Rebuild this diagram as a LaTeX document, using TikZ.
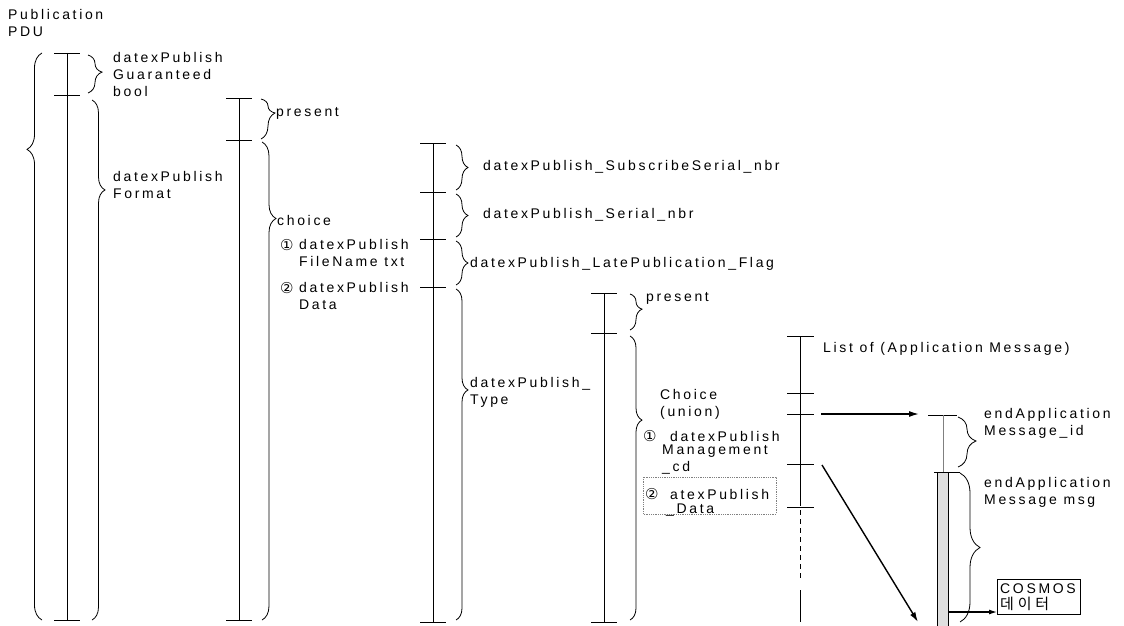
\documentclass[tikz,border=0pt]{standalone}
\usepackage{fontspec}
\setmainfont{Liberation Sans}[LetterSpace=19]
\newfontfamily\symfont{DejaVu Sans}
\newfontfamily\krfont{Noto Sans CJK KR}[LetterSpace=25]
\usetikzlibrary{decorations.pathreplacing,arrows.meta}
\begin{document}
\begin{tikzpicture}[x=1pt,y=-1pt,
  vline/.style={line width=1pt},
  tick/.style={line width=0.9pt},
  brc/.style 2 args={decorate,decoration={brace,amplitude=#1,aspect=#2},line width=0.8pt},
  lbl/.style={font=\fontsize{14pt}{17pt}\selectfont, inner sep=0pt, anchor=west, align=left},
  sym/.style={font=\fontsize{15pt}{17pt}\symfont, inner sep=0pt, anchor=west},
  krl/.style={font=\fontsize{15pt}{17pt}\krfont, inner sep=0pt, anchor=west},
  arr/.style={line width=1.4pt, -{Latex[length=10pt,width=6pt]}},
  dotbox/.style={line width=0.8pt, densely dotted, gray},
]
\useasboundingbox (0,0) rectangle (1124,626);

% title
\node[lbl] (title) at (8,23) {Publication\\PDU};

% column 1
\draw[vline] (67,53) -- (67,620);
\foreach \y in {53,95,620} \draw[tick] (54,\y) -- (80,\y);
\draw[brc={15}{0.83}] (42,620) -- (42,53);
\draw[brc={14}{0.45}] (88,55) -- (88,93);
\node[lbl] (guar) at (113,74) {datexPublish\\Guaranteed\\bool};
\draw[brc={13}{0.173}] (92,100) -- (92,620);
\node[lbl] (fmt) at (113,185) {datexPublish\\Format};

% column 2
\draw[vline] (239,98) -- (239,620);
\foreach \y in {98,140,620} \draw[tick] (226,\y) -- (252,\y);
\draw[brc={14}{0.35}] (261,99) -- (261,139);
\node[lbl] (pres1) at (276,113) {present};
\draw[brc={14}{0.16}] (262,142) -- (262,620);
\node[lbl] (choice) at (277,220) {choice};
\node[sym] (n1) at (280,245) {①};
\node[lbl] (fn) at (299,253) {datexPublish\\FileName txt};
\node[sym] (n2) at (280,288) {②};
\node[lbl] (dd) at (299,296) {datexPublish\\Data};

% column 3
\draw[vline] (433,143) -- (433,622);
\foreach \y in {143,192,239,287,622} \draw[tick] (420,\y) -- (446,\y);
\draw[brc={12}{0.5}] (456,145) -- (456,190);
\node[lbl] (ssn) at (483,167) {datexPublish\_SubscribeSerial\_nbr};
\draw[brc={12}{0.5}] (456,194) -- (456,237);
\node[lbl] (sn) at (483,215) {datexPublish\_Serial\_nbr};
\draw[brc={12}{0.5}] (456,241) -- (456,285);
\node[lbl] (lpf) at (470,264) {datexPublish\_LatePublication\_Flag};
\draw[brc={12}{0.305}] (456,289) -- (456,620);
\node[lbl] (typ) at (470,392) {datexPublish\_\\Type};

% column 4
\draw[vline] (604,293) -- (604,622);
\foreach \y in {293,333,622} \draw[tick] (591,\y) -- (617,\y);
\draw[brc={12}{0.42}] (630,294) -- (630,330);
\node[lbl] (pres2) at (646,298) {present};
\draw[brc={12}{0.296}] (630,336) -- (630,620);
\node[lbl] (cu) at (660,404) {Choice\\(union)};
\node[sym] (n3) at (643,436) {①};
\node[lbl] (dp) at (670,436) {datexPublish};
\node[lbl] (mg) at (662,460) {Management\\\_cd};
\draw[dotbox] (643,477) rectangle (776,514);
\node[sym] (n4) at (645,494) {②};
\node[lbl] (ap) at (670,494) {atexPublish};
\node[lbl] (dt) at (666,510) {\_Data};

% column 5
\draw[vline] (800,336) -- (800,506);
\draw[vline,dash pattern=on 5pt off 4pt] (800,510) -- (800,578);
\draw[vline] (800,590) -- (800,622);
\foreach \y in {336,393,414,464,507} \draw[tick] (787,\y) -- (814,\y);
\node[lbl] (list) at (823,349) {List of (Application Message)};

% arrows
\coordinate (a1s) at (821,414);
\coordinate (a1e) at (919,414);
\draw[arr] (a1s) -- (a1e);
\coordinate (a2s) at (822,465);
\coordinate (a2e) at (918,622);
\draw[arr] (a2s) -- (a2e);

% column 6
\draw[tick] (928,415) -- (957,415);
\draw[line width=0.8pt, gray] (943,415) -- (943,472);
\draw[line width=0.8pt, fill=gray!25] (937,472) rectangle (948,628);
\draw[tick] (934,472) -- (960,472);
\draw[brc={18}{0.48}] (958,417) -- (958,467);
\node[lbl] (eid) at (984,423) {endApplication\\Message\_id};
\draw[brc={20}{0.5}] (960,473) -- (960,622);
\node[lbl] (emsg) at (984,492) {endApplication\\Message msg};
\node[draw, line width=0.7pt, inner sep=0pt, minimum width=83pt, minimum height=35pt, anchor=north west] (cos) at (997,579) {};
\node[lbl] (cost) at (1000,589) {COSMOS};
\node[krl] (kr) at (1000,604) {데이터};
\coordinate (bar) at (948,612);
\draw[line width=1.2pt, -{Latex[length=8pt,width=5pt]}] (bar) -- (bar -| cos.west);
\end{tikzpicture}
\end{document}
